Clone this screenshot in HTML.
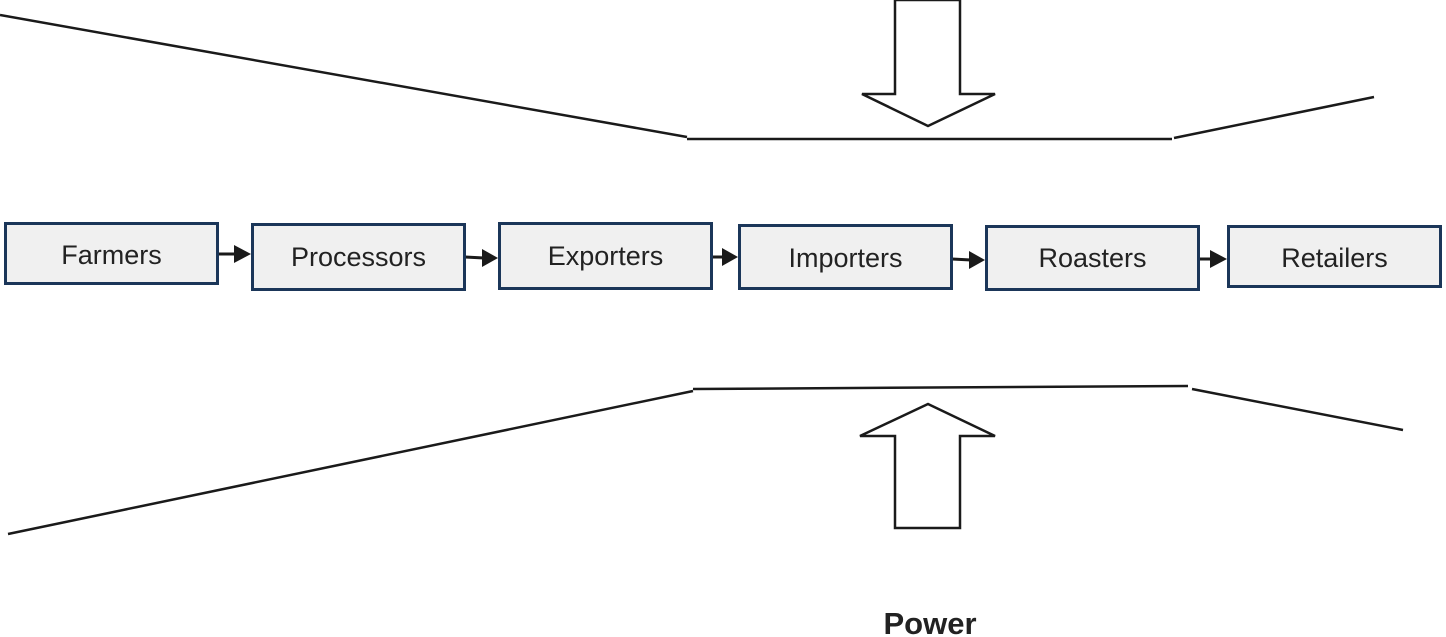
<!DOCTYPE html>
<html><head><style>
body{margin:0;width:1446px;height:637px;background:#fff;overflow:hidden;font-family:"Liberation Sans",sans-serif;}
.b{position:absolute;background:#f0f0f0;border:3px solid #1b3659;box-sizing:border-box;display:flex;align-items:center;justify-content:center;font-size:27px;color:#222;}
</style></head><body>
<svg width="1446" height="637" style="position:absolute;left:0;top:0">
<g stroke="#1a1a1a" stroke-width="2.5" fill="none">
<line x1="0" y1="15" x2="687" y2="137"/>
<line x1="687" y1="139" x2="1172" y2="139"/>
<line x1="1174" y1="138" x2="1374" y2="97"/>
<line x1="8" y1="534" x2="693" y2="391"/>
<line x1="693" y1="389" x2="1188" y2="386"/>
<line x1="1192" y1="389" x2="1403" y2="430"/>
<polygon points="895,0 960,0 960,94 995,94 928,126 862,94 895,94" fill="#fff"/>
<polygon points="895,528 960,528 960,436 995,436 928,404 860,436 895,436" fill="#fff"/>
</g>
<g stroke="#1a1a1a" stroke-width="3" fill="#1a1a1a">
<line x1="218" y1="254" x2="236" y2="254"/><polygon points="234,245 251,254 234,263" stroke="none"/>
<line x1="465" y1="257" x2="484" y2="258"/><polygon points="482,249 498,258 482,267" stroke="none"/>
<line x1="712" y1="257" x2="724" y2="257"/><polygon points="722,248 738,257 722,266" stroke="none"/>
<line x1="952" y1="259" x2="971" y2="260"/><polygon points="969,251 985,260 969,269" stroke="none"/>
<line x1="1199" y1="259" x2="1212" y2="259"/><polygon points="1210,250 1227,259 1210,268" stroke="none"/>
</g>
<text x="930" y="634" text-anchor="middle" font-family="Liberation Sans" font-weight="bold" font-size="31" fill="#222">Power</text>
</svg>
<div class="b" style="left:4px;top:222px;width:215px;height:63px;padding-top:4px">Farmers</div>
<div class="b" style="left:251px;top:223px;width:215px;height:68px">Processors</div>
<div class="b" style="left:498px;top:222px;width:215px;height:68px">Exporters</div>
<div class="b" style="left:738px;top:224px;width:215px;height:66px;padding-top:2px">Importers</div>
<div class="b" style="left:985px;top:225px;width:215px;height:66px">Roasters</div>
<div class="b" style="left:1227px;top:225px;width:215px;height:63px;padding-top:4px">Retailers</div>
</body></html>
